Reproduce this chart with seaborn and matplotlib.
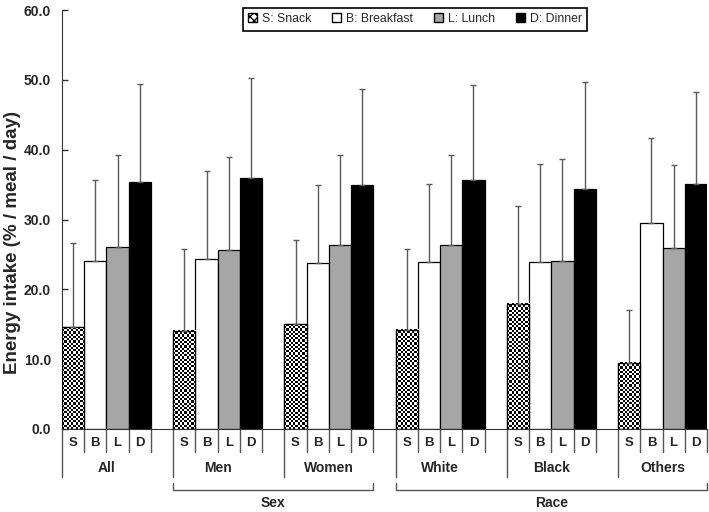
import numpy as np
import pandas as pd
import seaborn as sns
import matplotlib.pyplot as plt
from matplotlib.patches import Patch, Rectangle

groups = ["All", "Men", "Women", "White", "Black", "Others"]
meal_letters = ["S", "B", "L", "D"]
meal_labels = ["S: Snack", "B: Breakfast", "L: Lunch", "D: Dinner"]

snack_mean = [14.6, 14.1, 15.0, 14.2, 17.9, 9.5]
snack_sd = [12.0, 11.7, 12.0, 11.6, 14.1, 7.6]
breakfast_mean = [24.0, 24.4, 23.7, 23.9, 23.9, 29.5]
breakfast_sd = [11.7, 12.5, 11.2, 11.2, 14.0, 12.1]
lunch_mean = [26.1, 25.6, 26.4, 26.4, 24.0, 25.9]
lunch_sd = [13.1, 13.3, 12.9, 12.8, 14.7, 11.9]
dinner_mean = [35.4, 35.9, 35.0, 35.6, 34.3, 35.1]
dinner_sd = [14.0, 14.4, 13.7, 13.7, 15.4, 13.2]

brackets = [("Sex", 1, 2), ("Race", 3, 5)]

means = [snack_mean, breakfast_mean, lunch_mean, dinner_mean]
sds = [snack_sd, breakfast_sd, lunch_sd, dinner_sd]

# long table: 5 slots per group, 4 bars + one empty slot
rows = []
for g, grp in enumerate(groups):
    for m, letter in enumerate(meal_letters):
        rows.append({"group": grp, "meal": letter, "pos": 5 * g + m + 0.5,
                     "value": means[m][g], "sd": sds[m][g]})
df = pd.DataFrame(rows)

sns.set_style("ticks")
plt.rcParams["font.family"] = ["Liberation Sans", "DejaVu Sans"]

fig = plt.figure(figsize=(7.09, 5.12), dpi=100)
ax = fig.add_axes([62 / 709, 1 - 429 / 512, 645 / 709, 419 / 512])

palette = {"S": "white", "B": "white", "L": "#a6a6a6", "D": "black"}
sns.barplot(data=df, x="pos", y="value", hue="meal", hue_order=meal_letters,
            palette=palette, native_scale=True, dodge=False, width=1,
            errorbar=None, edgecolor="black", linewidth=0.9, legend=False, ax=ax)

ax.errorbar(df["pos"], df["value"], yerr=[np.zeros(len(df)), df["sd"]], fmt="none",
            ecolor="#5a5a5a", elinewidth=1, capsize=2.5, capthick=1, zorder=4)

# checkerboard fill for snack bars
snack_pos = set(df.loc[df["meal"] == "S", "pos"].round(2))
cell_px = 2.2
for p in list(ax.patches):
    cx = round(p.get_x() + p.get_width() / 2, 2)
    if cx not in snack_pos:
        continue
    x0, w, h = p.get_x(), p.get_width(), p.get_height()
    nx = 10
    ny = max(1, int(round(h * (419 / 60) / cell_px)))
    img = np.indices((ny, nx)).sum(axis=0) % 2
    ax.imshow(img, cmap="gray", vmin=0, vmax=1, extent=(x0, x0 + w, 0, h),
              origin="lower", aspect="auto", interpolation="nearest", zorder=2.5)
    ax.add_patch(Rectangle((x0, 0), w, h, fill=False, edgecolor="black",
                           linewidth=0.9, zorder=3))

ax.set_xlim(0, 29)
ax.set_ylim(0, 60)
ax.set_yticks(np.arange(0, 61, 10))
ax.set_yticklabels([f"{v:.1f}" for v in np.arange(0, 61, 10)], fontweight="bold", fontsize=10)
ax.tick_params(axis="y", direction="in", length=4, width=1, color="#333333", pad=8)
ax.set_xticks([])
ax.set_xlabel("")
ax.set_ylabel("Energy intake (% / meal / day)", fontweight="bold", fontsize=13.5)
ax.yaxis.set_label_coords(-0.064, 0.446)
sns.despine(ax=ax, top=True, right=True)
ax.spines["left"].set_color("#333333")
ax.spines["bottom"].set_color("#333333")

trans = ax.get_xaxis_transform()
lc = "#555555"
for g, grp in enumerate(groups):
    start = 5 * g
    for m, letter in enumerate(meal_letters):
        x = start + m
        if m > 0:
            ax.plot([x, x], [0, -0.055], transform=trans, clip_on=False, color=lc, lw=1)
        ax.text(x + 0.5, -0.033, letter, transform=trans, ha="center", va="center",
                fontweight="bold", fontsize=9.5)
    ax.plot([start + 4, start + 4], [0, -0.055], transform=trans, clip_on=False, color=lc, lw=1)
    ax.plot([start, start], [0, -0.115], transform=trans, clip_on=False, color=lc, lw=1)
    ax.text(start + 2, -0.093, grp, transform=trans, ha="center", va="center",
            fontweight="bold", fontsize=10)

for name, g0, g1 in brackets:
    xa, xb = 5 * g0, 5 * g1 + 4
    ax.plot([xa, xa, xb, xb], [-0.129, -0.146, -0.146, -0.129], transform=trans,
            clip_on=False, color=lc, lw=1)
    ax.text((xa + xb) / 2, -0.177, name, transform=trans, ha="center", va="center",
            fontweight="bold", fontsize=10)

handles = [Patch(facecolor="white", edgecolor="black", hatch="xxxx"),
           Patch(facecolor="white", edgecolor="black"),
           Patch(facecolor="#a6a6a6", edgecolor="black"),
           Patch(facecolor="black", edgecolor="black")]
leg = fig.legend(handles, meal_labels, loc="upper center", bbox_to_anchor=(415 / 709, 0.997),
                 ncol=4, frameon=True, fancybox=False, edgecolor="black", framealpha=1,
                 handlelength=0.75, handleheight=0.75, handletextpad=0.4, columnspacing=1.7,
                 fontsize=8.8, borderpad=0.45)
leg.get_frame().set_linewidth(1.2)

fig.savefig("out.png", dpi=100)
